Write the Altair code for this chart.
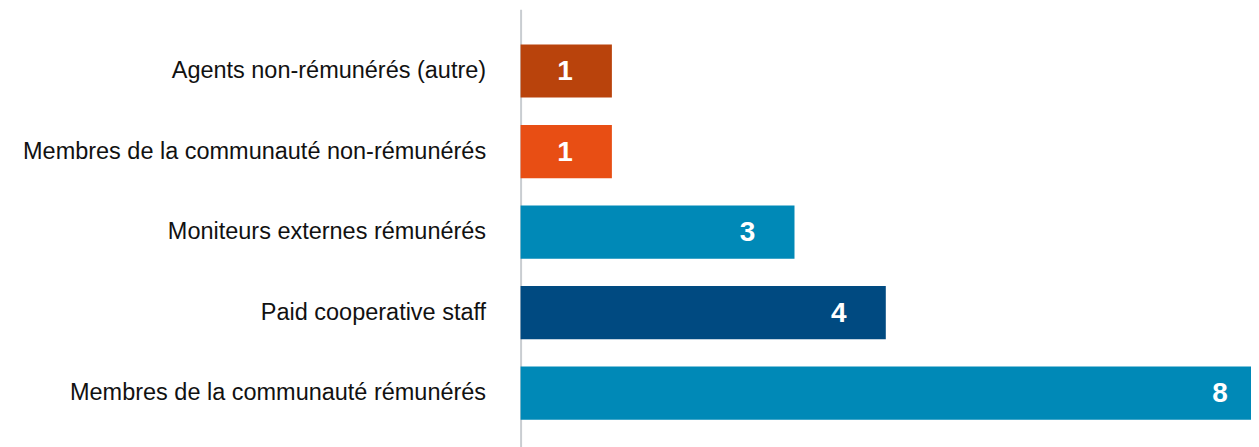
import altair as alt
import pandas as pd

categories = [
    "Agents non-rémunérés (autre)",
    "Membres de la communauté non-rémunérés",
    "Moniteurs externes rémunérés",
    "Paid cooperative staff",
    "Membres de la communauté rémunérés",
]
values = [1, 1, 3, 4, 8]
colors = ["#B9430C", "#E84E14", "#0089B7", "#004A81", "#0089B7"]

df = pd.DataFrame({"cat": categories, "val": values, "col": colors})

y_enc = alt.Y(
    "cat:N",
    sort=categories,
    title=None,
    scale=alt.Scale(paddingInner=0.34, paddingOuter=0.387, align=0.566),
    axis=alt.Axis(
        domainColor="#c9cdd1",
        domainWidth=2,
        ticks=False,
        labelPadding=35,
        labelFontSize=23.5,
        labelColor="#111111",
        labelLimit=0,
        labelFont="Liberation Sans",
    ),
)
x_enc = alt.X("val:Q", scale=alt.Scale(domain=[0, 8]), axis=None)

base = alt.Chart(df)

bars = base.mark_bar().encode(
    y=y_enc,
    x=x_enc,
    color=alt.Color("col:N", scale=None),
)

labels_small = base.transform_filter("datum.val < 8").mark_text(
    color="white", fontWeight="bold", fontSize=28, font="Liberation Sans",
    align="center", baseline="middle", dx=-47, dy=1,
).encode(y=y_enc, x=x_enc, text="val:Q")

labels_big = base.transform_filter("datum.val >= 8").mark_text(
    color="white", fontWeight="bold", fontSize=28, font="Liberation Sans",
    align="center", baseline="middle", dx=-31, dy=1,
).encode(y=y_enc, x=x_enc, text="val:Q")

chart = (
    alt.layer(bars, labels_small, labels_big)
    .properties(
        width=731,
        height=438,
        autosize=alt.AutoSizeParams(type="none"),
        padding={"left": 513, "top": 1, "right": 0, "bottom": 0},
    )
    .configure(font="Liberation Sans")
    .configure_view(strokeWidth=0, stroke="transparent")
)

chart.save("out.html", embed_options={"renderer": "svg", "actions": False})
